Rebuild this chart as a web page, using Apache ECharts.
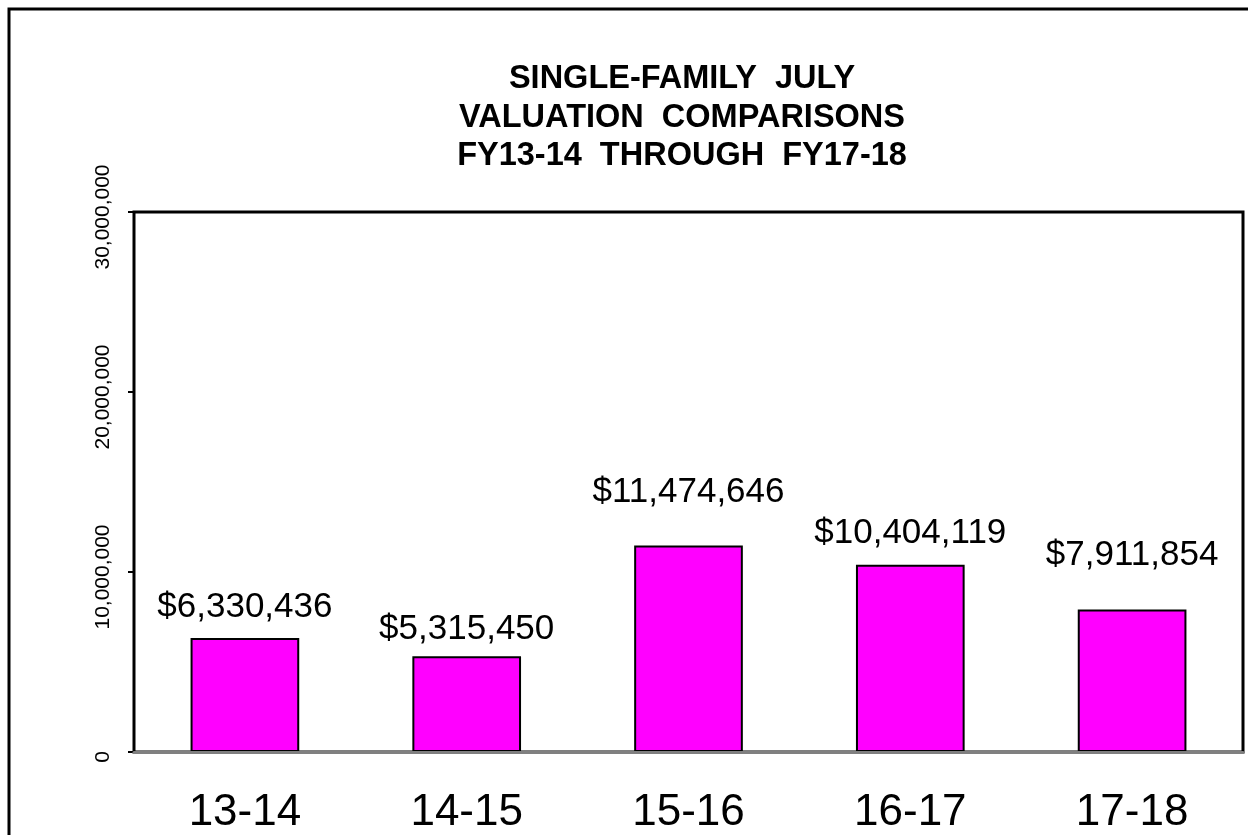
<!DOCTYPE html>
<html>
<head>
<meta charset="utf-8">
<script src="https://cdn.jsdelivr.net/npm/echarts@6/dist/echarts.min.js"></script>
<style>
  html, body { margin: 0; padding: 0; background: #fff; }
  #chart { width: 1248px; height: 835px; }
</style>
</head>
<body>
<div id="chart"></div>
<script>
// fiscal years
const categories = ['13-14', '14-15', '15-16', '16-17', '17-18']
// July single-family valuation ($)
const valuations = [6330436, 5315450, 11474646, 10404119, 7911854]
const titleLines = ['SINGLE-FAMILY  JULY', 'VALUATION  COMPARISONS', 'FY13-14  THROUGH  FY17-18']

const FONT = '"Liberation Sans", Arial, sans-serif'

// the original labels were dragged by hand, so they sit at uneven heights
const labelGap = [13, 9, 36, 14, 37]

const fmtThousands = (v) => String(v).replace(/\B(?=(\d{3})+(?!\d))/g, ',')

const chart = echarts.init(document.getElementById('chart'))

chart.setOption({
  animation: false,
  backgroundColor: '#fff',
  title: {
    text: titleLines.join('\n'),
    left: 677,
    top: 55,
    textAlign: 'center',
    textStyle: {
      fontFamily: FONT,
      fontSize: 32.5,
      fontWeight: 'bold',
      color: '#000',
      lineHeight: 38.5
    }
  },
  // outer chart frame (right/bottom fall off the picture)
  graphic: [{
    type: 'rect',
    shape: { x: 9, y: 9, width: 1400, height: 1000 },
    style: { fill: null, stroke: '#000', lineWidth: 3 },
    silent: true
  }],
  grid: {
    left: 134,
    right: 5,
    top: 212,
    bottom: 83,
    show: true,
    borderColor: '#000',
    borderWidth: 3,
    backgroundColor: '#fff'
  },
  xAxis: {
    type: 'category',
    data: categories,
    axisLine: { lineStyle: { color: '#808080', width: 3 } },
    axisTick: { length: 15, lineStyle: { color: '#808080', width: 2 } },
    axisLabel: {
      fontFamily: FONT,
      fontSize: 44,
      color: '#000',
      margin: 39
    },
    z: 5
  },
  yAxis: {
    type: 'value',
    min: 0,
    max: 30000000,
    interval: 10000000,
    axisLine: { show: false },
    axisTick: { show: true, length: 6, lineStyle: { color: '#000', width: 2 } },
    splitLine: { show: false },
    axisLabel: {
      rotate: 90,
      fontFamily: FONT,
      fontSize: 21,
      color: '#000',
      margin: 20,
      padding: [0, 10, 0, 0],
      formatter: (v) => fmtThousands(v)
    }
  },
  series: [{
    type: 'bar',
    data: valuations.map((v, i) => ({ value: v, label: { distance: labelGap[i] } })),
    barWidth: '49%',
    itemStyle: {
      color: '#FF00FF',
      borderColor: '#000',
      borderWidth: 2
    },
    label: {
      show: true,
      position: 'top',
      fontFamily: FONT,
      fontSize: 35,
      color: '#000',
      formatter: (p) => '$' + fmtThousands(p.value)
    }
  }]
})
</script>
</body>
</html>
